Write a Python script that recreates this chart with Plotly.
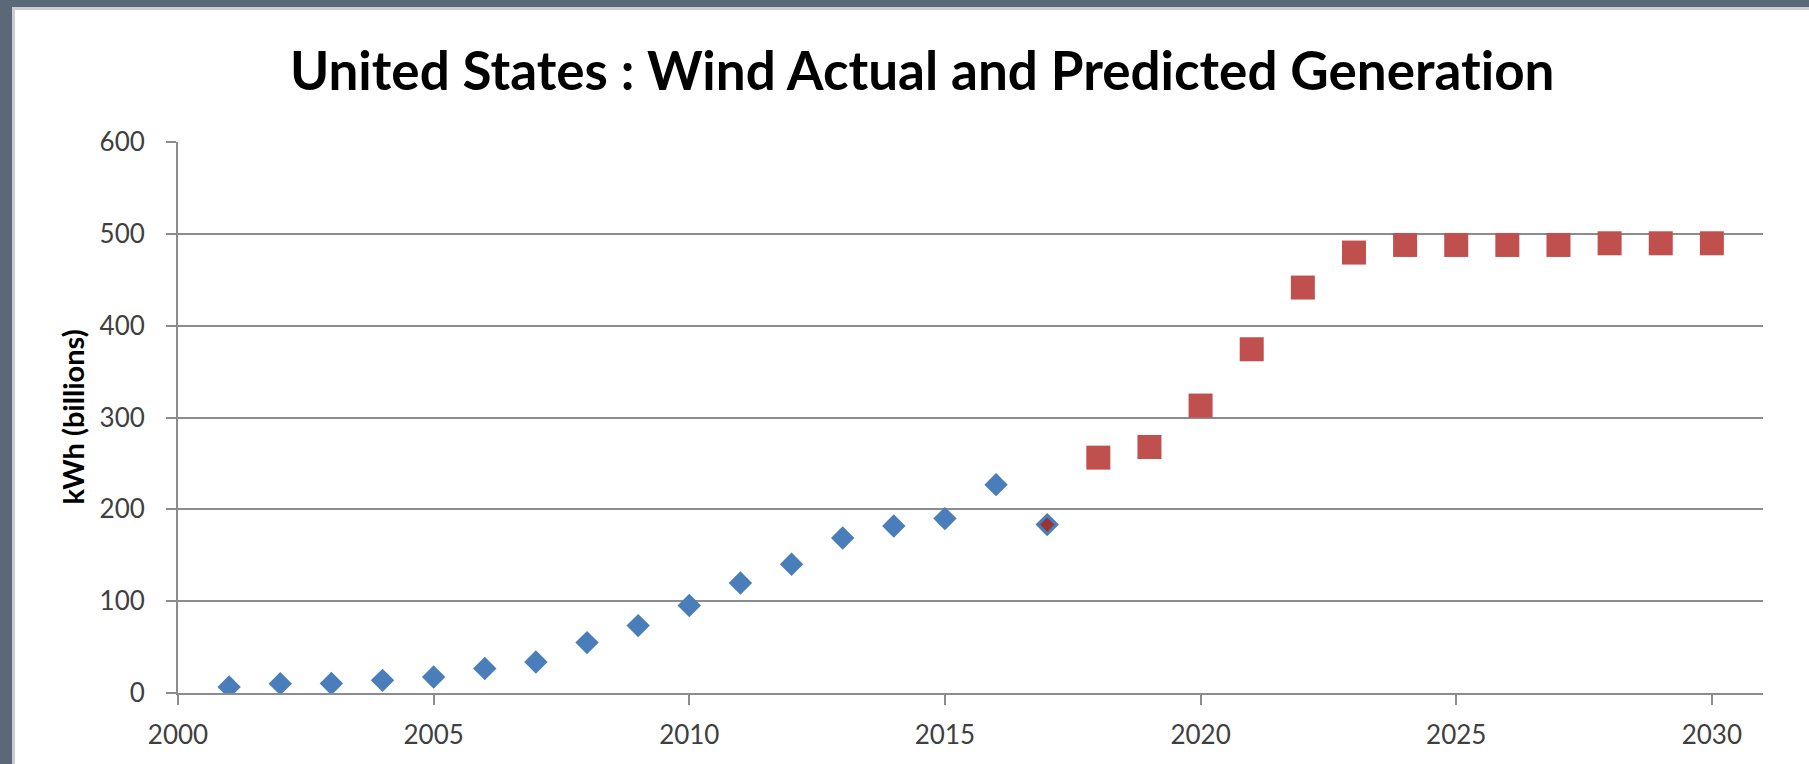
import plotly.graph_objects as go

# Actual wind generation, kWh (billions)
actual_years = [2001, 2002, 2003, 2004, 2005, 2006, 2007, 2008, 2009,
                2010, 2011, 2012, 2013, 2014, 2015, 2016, 2017]
actual_values = [6.6, 10.2, 10.3, 13.8, 17.4, 26.6, 33.8, 54.9, 73.4,
                 95.2, 119.8, 140.2, 168.8, 181.9, 189.9, 226.9, 183.4]

# Predicted wind generation, kWh (billions)
predicted_years = [2018, 2019, 2020, 2021, 2022, 2023, 2024, 2025,
                   2026, 2027, 2028, 2029, 2030]
predicted_values = [256.3, 267.9, 313.0, 374.3, 441.5, 479.6, 487.9, 487.9,
                    487.9, 487.9, 489.7, 489.7, 489.7]

# Overlap point where the predicted series starts
overlap_years = [2017]
overlap_values = [183.4]

y_ticks = [0, 100, 200, 300, 400, 500, 600]
x_ticks = [2000, 2005, 2010, 2015, 2020, 2025, 2030]

W, H = 1809, 764
ML, MR, MT, MB = 178, 46, 142, 71
PW, PH = W - ML - MR, H - MT - MB

GRID = "#8c8c8c"
TICKFONT = dict(family="Lato, 'Open Sans', sans-serif", size=26, color="#3f3f3f")

fig = go.Figure()
fig.add_trace(go.Scatter(
    x=actual_years, y=actual_values, mode="markers", name="Actual",
    marker=dict(symbol="diamond", size=18, color="#4a7ebb", line=dict(width=0)),
))
fig.add_trace(go.Scatter(
    x=predicted_years, y=predicted_values, mode="markers", name="Predicted",
    marker=dict(symbol="square", size=24, color="#c0504d", line=dict(width=0)),
))
fig.add_trace(go.Scatter(
    x=overlap_years, y=overlap_values, mode="markers", name="Predicted start",
    marker=dict(symbol="diamond", size=11, color="#983532", line=dict(width=0)),
))

fig.update_xaxes(
    range=[2000, 2031], tickvals=x_ticks, ticktext=[str(v) for v in x_ticks],
    showgrid=False, zeroline=False, showline=True, linecolor=GRID, linewidth=2,
    ticks="outside", ticklen=10, tickwidth=2, tickcolor=GRID,
    tickfont=TICKFONT, ticklabelstandoff=8,
)
fig.update_yaxes(
    range=[0, 600], tickvals=y_ticks, ticktext=[str(v) for v in y_ticks],
    showgrid=True, gridcolor=GRID, gridwidth=2, zeroline=False,
    showline=True, linecolor=GRID, linewidth=2,
    ticks="outside", ticklen=10, tickwidth=2, tickcolor=GRID,
    tickfont=TICKFONT, ticklabelstandoff=16,
)

# Slate frame along the left and top edges of the slide
SLATE = "#5b6878"
fig.add_shape(type="rect", xref="paper", yref="paper",
              x0=-ML / PW, x1=(12 - ML) / PW, y0=-MB / PH, y1=1 + MT / PH,
              fillcolor=SLATE, line=dict(width=0), layer="above")
fig.add_shape(type="rect", xref="paper", yref="paper",
              x0=-ML / PW, x1=1 + MR / PW, y0=1 + (MT - 7) / PH, y1=1 + MT / PH,
              fillcolor=SLATE, line=dict(width=0), layer="above")
fig.add_shape(type="rect", xref="paper", yref="paper",
              x0=(12 - ML) / PW, x1=(15 - ML) / PW, y0=-MB / PH, y1=1 + (MT - 7) / PH,
              fillcolor="#c9ccd0", line=dict(width=0), layer="above")
fig.add_shape(type="rect", xref="paper", yref="paper",
              x0=(12 - ML) / PW, x1=1 + MR / PW, y0=1 + (MT - 10) / PH, y1=1 + (MT - 7) / PH,
              fillcolor="#c9ccd0", line=dict(width=0), layer="above")

# Ligatures switched off so "ti" renders as two letters
fig.add_annotation(
    text=("<span style='font-variant-ligatures:none'>"
          "<b>United States : Wind Actual and Predicted Generation</b></span>"),
    xref="paper", yref="paper", x=(922 - ML) / PW, y=1 + (MT - 69) / PH,
    xanchor="center", yanchor="middle", showarrow=False,
    font=dict(family="Lato, 'Open Sans', sans-serif", size=53, color="#000000"),
)
fig.add_annotation(
    text="<b>kWh (billions)</b>",
    xref="paper", yref="paper", x=(72 - ML) / PW, y=0.5,
    xanchor="center", yanchor="middle", textangle=-90, showarrow=False,
    font=dict(family="Lato, 'Open Sans', sans-serif", size=29, color="#000000"),
)

fig.update_layout(
    width=W, height=H,
    margin=dict(l=ML, r=MR, t=MT, b=MB, autoexpand=False),
    paper_bgcolor="white", plot_bgcolor="white",
    showlegend=False,
)

fig.write_html("out.html")
